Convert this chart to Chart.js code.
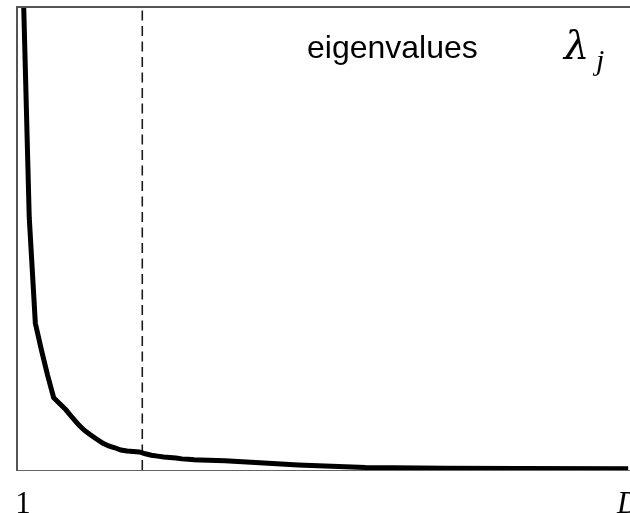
<!DOCTYPE html>
<html>
<head>
<meta charset="utf-8">
<script src="https://cdn.jsdelivr.net/npm/chart.js@4/dist/chart.umd.min.js"></script>
<style>
  html, body { margin: 0; padding: 0; background: #ffffff; }
  #wrap { width: 630px; height: 513px; position: relative; }
</style>
</head>
<body>
<div id="wrap"><canvas id="grafico"></canvas></div>
<script>
// eigenvalue index j and the value
const indices = [1, 2, 3, 4, 5, 6, 7, 8, 9, 10, 11, 12, 13, 14, 15, 16, 17, 18, 19, 20,
  21, 22, 23, 24, 25, 26, 27, 28, 29, 30, 34, 39, 46, 57, 70, 82, 100];
const eigenvalues = [105, 54.6, 31.7, 25.9, 20.5, 15.6, 14.3, 13.0, 11.4, 9.9, 8.6, 7.6, 6.7, 5.8, 5.2,
  4.8, 4.3, 4.1, 4.0, 3.9, 3.5, 3.2, 3.0, 2.8, 2.7, 2.6, 2.4, 2.3, 2.2, 2.15, 2.0, 1.6, 1.1, 0.55, 0.4, 0.3, 0.25];
const cutoff = 20.5;
const tickValues = [1, 100];
const tickLabels = ["1", "D"];

function puntos(xs, ys) {
  return xs.map(function (x, i) {
    return { x: x, y: ys[i] };
  });
}

const textos = {
  id: "textos",
  afterDraw: function (chart) {
    const ctx = chart.ctx;
    const area = chart.chartArea;
    ctx.save();
    // top edge of the frame
    ctx.strokeStyle = "#555555";
    ctx.lineWidth = 2;
    ctx.beginPath();
    ctx.moveTo(area.left, area.top);
    ctx.lineTo(area.right, area.top);
    ctx.stroke();

    ctx.fillStyle = "#000000";
    ctx.textBaseline = "alphabetic";
    ctx.font = "32px 'Liberation Sans', Arial, sans-serif";
    ctx.fillText("eigenvalues", 307, 58);
    ctx.font = "italic 40px 'DejaVu Serif', serif";
    ctx.fillText("\u03BB", 564, 59);
    ctx.font = "italic 30px 'Liberation Serif', serif";
    ctx.fillText("j", 596, 70);
    ctx.restore();
  },
};

const context = document.getElementById("grafico");
const grafico = new Chart(context, {
  type: "line",
  data: {
    datasets: [
      {
        data: puntos(indices, eigenvalues),
        borderColor: "#000000",
        borderWidth: 5,
        pointRadius: 0,
        tension: 0,
        fill: false,
      },
      {
        data: [{ x: cutoff, y: 0 }, { x: cutoff, y: 100 }],
        borderColor: "#1a1a1a",
        borderWidth: 1.6,
        borderDash: [10, 5.5],
        pointRadius: 0,
        fill: false,
      },
    ],
  },
  options: {
    responsive: true,
    maintainAspectRatio: false,
    animation: false,
    events: [],
    layout: { padding: { left: 17, top: 7, right: 0, bottom: 0 } },
    plugins: { legend: { display: false }, tooltip: { enabled: false } },
    scales: {
      x: {
        type: "linear",
        min: 0,
        max: 100.3,
        grid: { display: false, drawTicks: false },
        border: { display: true, color: "#666666", width: 1 },
        afterBuildTicks: function (scale) {
          scale.ticks = tickValues.map(function (v) {
            return { value: v };
          });
        },
        afterFit: function (scale) {
          scale.paddingLeft = 0;
          scale.paddingRight = 0;
          scale.height = 43;
        },
        ticks: {
          padding: 16,
          color: "#000000",
          maxRotation: 0,
          autoSkip: false,
          callback: function (value) {
            return tickLabels[tickValues.indexOf(value)];
          },
          font: function (ctx) {
            return {
              family: "'Liberation Serif', serif",
              size: 31,
              style: ctx.index === 1 ? "italic" : "normal",
            };
          },
        },
      },
      y: {
        min: 0,
        max: 100,
        grid: { display: false, drawTicks: false },
        border: { display: true, color: "#555555", width: 2 },
        ticks: { display: false },
        afterFit: function (scale) {
          scale.width = 0;
        },
      },
    },
  },
  plugins: [textos],
});
</script>
</body>
</html>
